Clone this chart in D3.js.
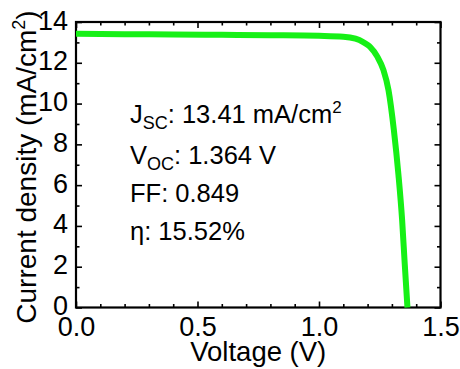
<!DOCTYPE html>
<html>
<head>
<meta charset="utf-8">
<script src="https://cdn.jsdelivr.net/npm/d3@7"></script>
<style>
  html, body { margin: 0; padding: 0; background: #fff; }
  svg { display: block; font-family: Arial, "Liberation Sans", Helvetica, sans-serif; }
</style>
</head>
<body>
<svg id="chart" width="460" height="369"></svg>
<script>
// ---- data ----
const voltage = [0.00, 0.20, 0.40, 0.60, 0.80, 1.00, 1.10, 1.15, 1.18, 1.20, 1.211, 1.24, 1.265, 1.286, 1.308, 1.327, 1.342, 1.353, 1.364];
const current = [13.42, 13.40, 13.39, 13.37, 13.35, 13.32, 13.28, 13.18, 13.03, 12.88, 12.77, 12.30, 11.65, 10.66, 8.71, 6.50, 4.30, 2.10, 0.00];
const xTicks = [0.0, 0.5, 1.0, 1.5];
const yTicks = [0, 2, 4, 6, 8, 10, 12, 14];
const xMinor = [0.1, 0.2, 0.3, 0.4, 0.6, 0.7, 0.8, 0.9, 1.1, 1.2, 1.3, 1.4];
const yMinor = [1, 3, 5, 7, 9, 11, 13];
const annotations = [
  { main: "J", sub: "SC", rest: ": 13.41 mA/cm", sup: "2" },
  { main: "V", sub: "OC", rest: ": 1.364 V", sup: "" },
  { main: "FF: 0.849", sub: "", rest: "", sup: "" },
  { main: "η: 15.52%", sub: "", rest: "", sup: "" }
];

// ---- layout ----
const svg = d3.select("#chart");
const m = { left: 76, right: 440.5, top: 22, bottom: 307.5 };
const x = d3.scaleLinear().domain([0, 1.5]).range([m.left, m.right]);
const y = d3.scaleLinear().domain([0, 14]).range([m.bottom, m.top]);

const tickFont = 27;
const major = 6, minor = 3.5;
const ff = "Arial, 'Liberation Sans', sans-serif";

function styleAxis(g) {
  g.select(".domain").remove();
  g.selectAll("line").attr("stroke", "#000").attr("stroke-width", 1.6);
}
svg.append("g").attr("transform", `translate(0,${m.bottom})`)
  .call(d3.axisBottom(x).tickValues(xTicks).tickFormat(d3.format(".1f")).tickSizeInner(-major).tickPadding(9))
  .call(styleAxis)
  .call(g => g.selectAll("text").attr("font-size", tickFont).attr("fill", "#000").attr("font-family", ff));
svg.append("g").attr("transform", `translate(0,${m.bottom})`)
  .call(d3.axisBottom(x).tickValues(xMinor).tickFormat("").tickSizeInner(-minor)).call(styleAxis);
svg.append("g").attr("transform", `translate(0,${m.top})`)
  .call(d3.axisTop(x).tickValues(xTicks).tickFormat("").tickSizeInner(-major)).call(styleAxis);
svg.append("g").attr("transform", `translate(0,${m.top})`)
  .call(d3.axisTop(x).tickValues(xMinor).tickFormat("").tickSizeInner(-minor)).call(styleAxis);

svg.append("g").attr("transform", `translate(${m.left},0)`)
  .call(d3.axisLeft(y).tickValues(yTicks).tickFormat(d3.format("d")).tickSizeInner(-major).tickPadding(8))
  .call(styleAxis)
  .call(g => g.selectAll("text").attr("font-size", tickFont).attr("fill", "#000").attr("font-family", ff).attr("dy", "0.26em"));
svg.append("g").attr("transform", `translate(${m.left},0)`)
  .call(d3.axisLeft(y).tickValues(yMinor).tickFormat("").tickSizeInner(-minor)).call(styleAxis);
svg.append("g").attr("transform", `translate(${m.right},0)`)
  .call(d3.axisRight(y).tickValues(yTicks).tickFormat("").tickSizeInner(-major)).call(styleAxis);
svg.append("g").attr("transform", `translate(${m.right},0)`)
  .call(d3.axisRight(y).tickValues(yMinor).tickFormat("").tickSizeInner(-minor)).call(styleAxis);

// frame
svg.append("rect").attr("x", m.left).attr("y", m.top)
  .attr("width", m.right - m.left).attr("height", m.bottom - m.top)
  .attr("fill", "none").attr("stroke", "#000").attr("stroke-width", 2.2);

// curve
const pts = voltage.map((v, i) => [v, current[i]]);
svg.append("path").datum(pts)
  .attr("fill", "none").attr("stroke", "#16f016").attr("stroke-width", 6)
  .attr("stroke-linecap", "butt")
  .attr("d", d3.line().x(d => x(d[0])).y(d => y(d[1])).curve(d3.curveMonotoneX));

// axis titles
svg.append("text").attr("x", (m.left + m.right) / 2).attr("y", 361)
  .attr("text-anchor", "middle").attr("font-size", 27.5).attr("fill", "#000")
  .text("Voltage (V)");
const yt = svg.append("text").attr("transform", `translate(36,167) rotate(-90)`)
  .attr("text-anchor", "middle").attr("font-size", 28).attr("fill", "#000");
yt.append("tspan").text("Current density (mA/cm");
yt.append("tspan").attr("font-size", 18).attr("dy", -11).text("2");
yt.append("tspan").attr("dy", 11).text(")");

// annotations
const annoY = [123, 164, 202, 240];
annotations.forEach((a, i) => {
  const t = svg.append("text").attr("x", 130).attr("y", annoY[i]).attr("font-size", 25.5).attr("fill", "#000");
  t.append("tspan").text(a.main);
  if (a.sub) t.append("tspan").attr("font-size", 18).attr("dy", 6).text(a.sub);
  if (a.rest) t.append("tspan").attr("dy", a.sub ? -6 : 0).text(a.rest);
  if (a.sup) t.append("tspan").attr("font-size", 17).attr("dy", -10).text(a.sup);
});
</script>
</body>
</html>
